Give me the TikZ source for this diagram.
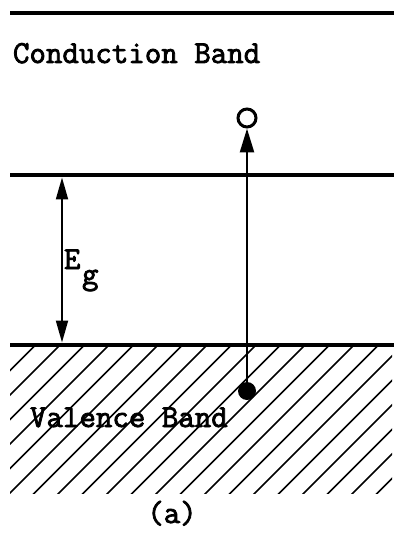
\documentclass[tikz,border=0pt]{standalone}
\usepackage{fontspec}
\newfontfamily\twfont{Latin Modern Mono}[FakeBold=2.5]
\usetikzlibrary{arrows.meta}
\tikzset{
  band/.style={line width=4pt},
  hatch/.style={line width=1.6pt},
  lbl/.style={inner sep=0pt, outer sep=0pt, anchor=base west, font=\twfont\fontsize{32}{35}\selectfont},
  tip/.style={-{Triangle[length=24pt,width=14pt]}},
  dtip/.style={{Triangle[length=22pt,width=12pt]}-{Triangle[length=22pt,width=12pt]}}
}
\begin{document}
\begin{tikzpicture}[x=1pt,y=-1pt]
\useasboundingbox (0,0) rectangle (394,537);
% hatching of valence band
\begin{scope}
  \clip (10,346) rectangle (392,493);
  \foreach \k in {-6,...,15} {
    \draw[hatch] ({503+24.5*\k-493-2},495) -- ++(152,-152);
  }
\end{scope}
% band edges
\coordinate (t1) at (10,13);  \coordinate (t2) at (394,13);
\coordinate (c1) at (10,175); \coordinate (c2) at (394,175);
\coordinate (v1) at (10,345); \coordinate (v2) at (394,345);
\draw[band] (t1) -- (t2);
\draw[band] (c1) -- (c2);
\draw[band] (v1) -- (v2);
% gap arrow
\coordinate (egtop) at (62,177.5);
\coordinate (egbot) at (62,342.5);
\draw[line width=2pt, dtip] (egtop) -- (egbot);
\node[lbl] (eg) at (64,269) {E};
\node[lbl] (egsub) at (82,284) {g};
% labels
\node[lbl] (cb) at (13,63) {Conduction Band};
\node[lbl] (vb) at (30,427) {Valence Band};
\node[lbl, anchor=base] (cap) at (172,523) {(a)};
% electron excitation
\node[circle, draw, line width=3pt, minimum size=18pt, inner sep=0pt] (hole) at (247,118) {};
\node[circle, fill, minimum size=18pt, inner sep=0pt] (el) at (247,391) {};
\draw[line width=2.5pt, tip] (el.center) -- (hole.south);
\end{tikzpicture}
\end{document}
